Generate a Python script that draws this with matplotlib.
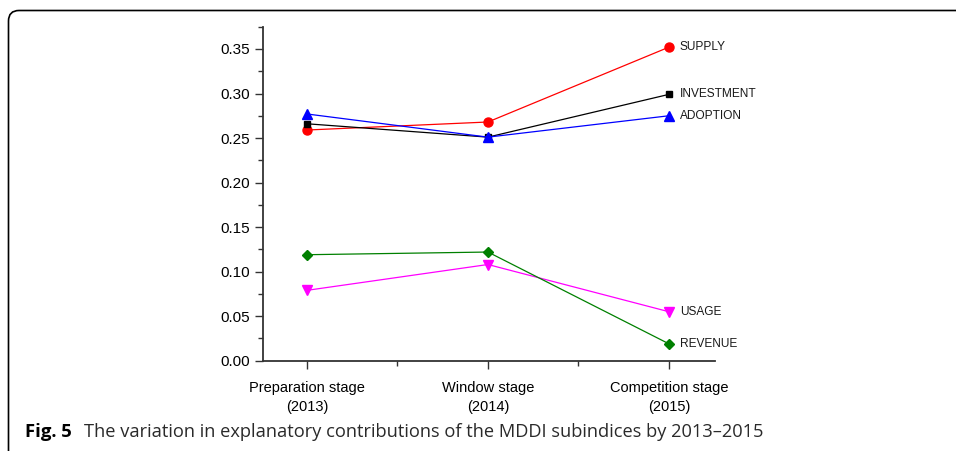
import matplotlib.pyplot as plt
from matplotlib.patches import FancyBboxPatch
from matplotlib.ticker import MultipleLocator

# Datos
stages = ['Preparation stage\n(2013)', 'Window stage\n(2014)', 'Competition stage\n(2015)']
supply = [0.259, 0.268, 0.352]
investment = [0.266, 0.251, 0.299]
adoption = [0.277, 0.251, 0.275]
usage = [0.079, 0.108, 0.055]
revenue = [0.119, 0.122, 0.019]

series = [
    ('SUPPLY', supply, 'red', 'o', 6.5),
    ('INVESTMENT', investment, 'black', 's', 5),
    ('ADOPTION', adoption, 'blue', '^', 7),
    ('USAGE', usage, 'magenta', 'v', 7),
    ('REVENUE', revenue, 'green', 'D', 5.5),
]

plt.rcParams['font.family'] = ['Liberation Sans', 'DejaVu Sans']

fig = plt.figure(figsize=(9.56, 4.51), dpi=100)

# Marco redondeado
frame = FancyBboxPatch((8.5 / 956, -0.2), 1.2, 1.2 - 10.5 / 451,
                       boxstyle='round,pad=0,rounding_size=0.011',
                       transform=fig.transFigure, fill=False,
                       edgecolor='black', linewidth=1.2, mutation_aspect=956 / 451)
fig.patches.append(frame)

ax = fig.add_axes([262.7 / 956, 1 - 360.7 / 451, (715 - 262.7) / 956, (360.7 - 26.7) / 451])

x = list(range(len(stages)))
for name, vals, color, marker, ms in series:
    ax.plot(x, vals, color=color, marker=marker, markersize=ms, linewidth=0.9)
    ax.text(x[-1] + 0.06, vals[-1], name, fontsize=8.6, va='center', ha='left', color='#1a1a1a')

ax.set_xlim(-0.245, 2.255)
ax.set_ylim(0, 0.375)
ax.set_xticks(x)
ax.set_xticklabels(stages, fontsize=10.5, linespacing=1.45)
ax.xaxis.set_minor_locator(MultipleLocator(0.5))
ax.yaxis.set_major_locator(MultipleLocator(0.05))
ax.yaxis.set_minor_locator(MultipleLocator(0.025))
ax.yaxis.set_major_formatter(plt.FuncFormatter(lambda v, p: f'{v:.2f}'))
ax.tick_params(axis='y', labelsize=11)
ax.tick_params(axis='x', pad=8.5)
ax.tick_params(which='major', length=6, width=1, color='#333333')
ax.tick_params(which='minor', length=3.5, width=1, color='#333333')
ax.spines['top'].set_visible(False)
ax.spines['right'].set_visible(False)
for s in ['left', 'bottom']:
    ax.spines[s].set_linewidth(1.3)
    ax.spines[s].set_color('#333333')

# Pie de figura
fig.text(25 / 956, 1 - 432 / 451, 'Fig. 5', fontsize=13.3, fontweight='bold',
         family=['Open Sans', 'DejaVu Sans'], va='center', ha='left')
fig.text(84 / 956, 1 - 432 / 451,
         'The variation in explanatory contributions of the MDDI subindices by 2013\u20132015',
         fontsize=13.15, family=['Open Sans', 'DejaVu Sans'], va='center', ha='left', color='#2a2a2a')

plt.savefig('out.png', dpi=100)
